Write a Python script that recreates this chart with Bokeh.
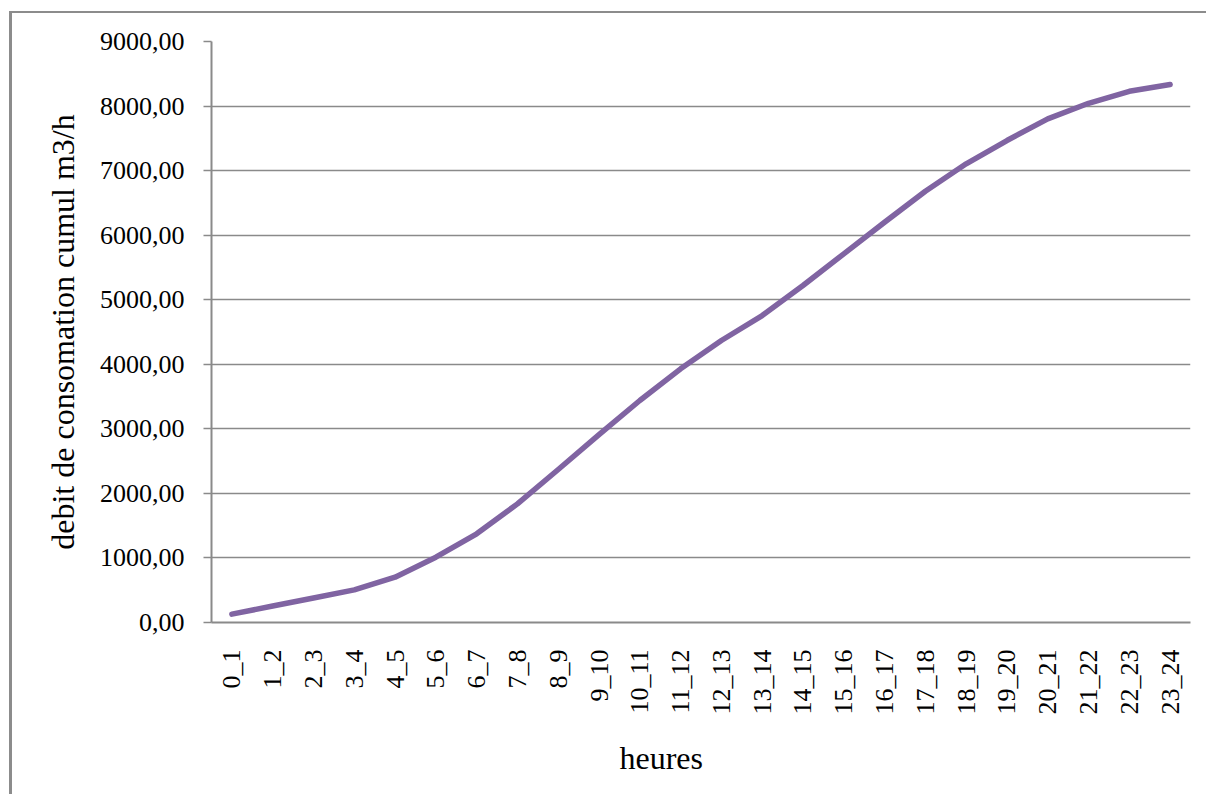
from bokeh.plotting import figure
from bokeh.models import CustomJSTickFormatter, FixedTicker, Range1d, Title
from bokeh.embed import file_html
from bokeh.resources import INLINE

hours = ["0_1", "1_2", "2_3", "3_4", "4_5", "5_6", "6_7", "7_8", "8_9", "9_10",
         "10_11", "11_12", "12_13", "13_14", "14_15", "15_16", "16_17", "17_18",
         "18_19", "19_20", "20_21", "21_22", "22_23", "23_24"]
cumul = [130, 255, 380, 506, 702, 1011, 1374, 1838, 2370, 2910,
         3439, 3929, 4368, 4755, 5220, 5711, 6200, 6680,
         7105, 7466, 7802, 8043, 8229, 8333]
y_ticks = [0, 1000, 2000, 3000, 4000, 5000, 6000, 7000, 8000, 9000]
y_title = "debit de consomation cumul m3/h"
x_title = "heures"

FONT = "Liberation Serif"
GRID = "#8a8a8a"

W, H = 1197, 783
p = figure(x_range=hours, y_range=Range1d(0, 9000), width=W, height=H,
           output_backend="svg", toolbar_location=None,
           min_border_left=199, min_border_top=28,
           min_border_right=19, min_border_bottom=174)
p.styles = {"margin-left": "9px", "margin-top": "11px",
            "border-left": "3px solid #8c8c8c", "border-top": "2px solid #8c8c8c"}

p.line(hours, cumul, line_color="#8064A2", line_width=5.5,
       line_cap="round", line_join="round")

p.outline_line_color = None
p.background_fill_color = "white"
p.border_fill_color = "white"

p.xgrid.grid_line_color = None
p.ygrid.grid_line_color = GRID
p.ygrid.grid_line_width = 1.5

p.yaxis.ticker = FixedTicker(ticks=y_ticks)
p.yaxis.formatter = CustomJSTickFormatter(code="return tick.toFixed(2).replace('.', ',');")
p.yaxis.major_label_text_font = FONT
p.yaxis.major_label_text_font_size = "26px"
p.yaxis.major_label_text_color = "black"
p.yaxis.major_tick_in = 0
p.yaxis.major_tick_out = 8
p.yaxis.major_tick_line_color = GRID
p.yaxis.major_tick_line_width = 1.5
p.yaxis.minor_tick_line_color = None
p.yaxis.axis_line_color = GRID
p.yaxis.axis_line_width = 2
p.yaxis.major_label_standoff = 19
p.yaxis.axis_label = y_title
p.yaxis.axis_label_text_font = FONT
p.yaxis.axis_label_text_font_size = "32px"
p.yaxis.axis_label_text_font_style = "normal"
p.yaxis.axis_label_text_color = "black"
p.yaxis.axis_label_standoff = 16

p.xaxis.major_label_orientation = 1.5707963
p.xaxis.major_label_text_font = FONT
p.xaxis.major_label_text_font_size = "26px"
p.xaxis.major_label_text_color = "black"
p.xaxis.major_tick_in = 0
p.xaxis.major_tick_out = 0
p.xaxis.minor_tick_line_color = None
p.xaxis.axis_line_color = GRID
p.xaxis.axis_line_width = 2
p.xaxis.major_label_standoff = 27

p.add_layout(Title(text=x_title, align="left", offset=408, standoff=40,
                   text_font=FONT, text_font_size="32px",
                   text_font_style="normal", text_color="black"), "below")

open("out.html", "w").write(file_html(p, INLINE))
